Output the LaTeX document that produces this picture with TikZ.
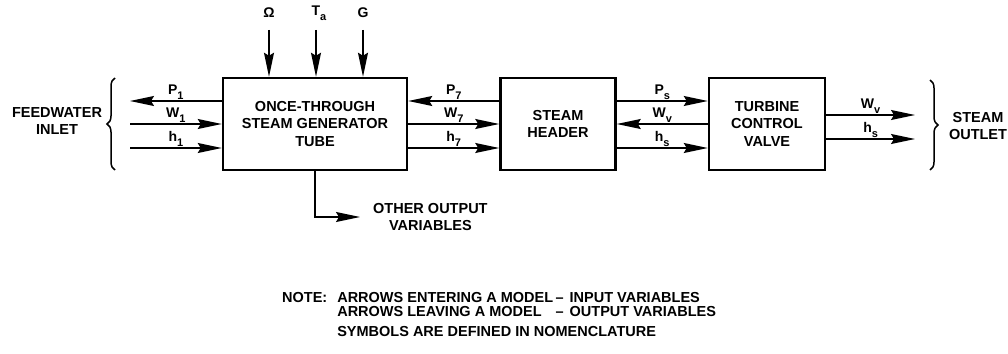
\documentclass[tikz,border=0pt]{standalone}
\usepackage{fontspec}
\setmainfont{Liberation Sans}
\usetikzlibrary{arrows.meta,positioning,calc,decorations.pathreplacing}
\newcommand{\vsub}[2]{#1\raisebox{-5pt}{\fontsize{11}{11}\selectfont #2}}

\begin{document}
\begin{tikzpicture}[x=1pt, y=-1pt,
    every node/.style={font=\fontsize{14.5}{17}\selectfont\bfseries},
    model/.style={draw, line width=2.5pt, minimum height=92pt, align=center, font=\fontsize{14.5}{17.5}\selectfont\bfseries},
    sig/.style={line width=1.3pt, -{Stealth[length=24pt, width=10pt, inset=3pt]}},
    lbl/.style={inner sep=1pt, font=\fontsize{14}{14}\selectfont\bfseries},
    curly/.style={decorate, decoration={brace, amplitude=8pt}, line width=1.5pt},
]
\useasboundingbox (0,0) rectangle (1008,353);

% the three models
\node[model, minimum width=184pt] (tube) at (315,124) {ONCE-THROUGH\\STEAM GENERATOR\\TUBE};
\node[model, minimum width=115pt] (header) at (558,124) {STEAM\\HEADER};
\node[model, minimum width=116pt] (valve) at (767,124) {TURBINE\\CONTROL\\VALVE};

% feedwater side
\coordinate (p1end) at (130,101);
\coordinate (w1start) at (130,124);
\coordinate (h1start) at (130,148);
\draw[sig] (tube.west |- p1end) -- (p1end) node[lbl, midway, above] {\vsub{P}{1}};
\draw[sig] (w1start) -- (tube.west |- w1start) node[lbl, midway, above] {\vsub{W}{1}};
\draw[sig] (h1start) -- (tube.west |- h1start) node[lbl, midway, above] {\vsub{h}{1}};
\draw[curly] (115,170) -- (115,78);
\node[align=center] (inlet) at (57,121) {FEEDWATER\\INLET};

% top inputs
\coordinate (omtop) at (269,30);
\coordinate (tatop) at (316,30);
\coordinate (gtop) at (363,30);
\node[lbl, above=11pt of omtop] (om) {Ω};
\node[lbl, above=8pt of tatop, xshift=3pt] (ta) {\vsub{T}{a}};
\node[lbl, above=11pt of gtop] (g) {G};
\draw[sig] (omtop) -- (omtop |- tube.north);
\draw[sig] (tatop) -- (tatop |- tube.north);
\draw[sig] (gtop) -- (gtop |- tube.north);

% other outputs
\node[anchor=west, inner sep=0, align=center] (other) at (373,217) {OTHER OUTPUT\\VARIABLES};
\draw[sig] (tube.south) |- ([xshift=-13pt]other.west);

% tube <-> header
\draw[sig] ([yshift=23pt]header.west) -- ([yshift=23pt]tube.east) node[lbl, midway, above] {\vsub{P}{7}};
\draw[sig] (tube.east) -- (header.west) node[lbl, midway, above] {\vsub{W}{7}};
\draw[sig] ([yshift=-24pt]tube.east) -- ([yshift=-24pt]header.west) node[lbl, midway, above] {\vsub{h}{7}};

% header <-> valve
\draw[sig] ([yshift=23pt]header.east) -- ([yshift=23pt]valve.west) node[lbl, midway, above] {\vsub{P}{s}};
\draw[sig] (valve.west) -- (header.east) node[lbl, midway, above] {\vsub{W}{v}};
\draw[sig] ([yshift=-24pt]header.east) -- ([yshift=-24pt]valve.west) node[lbl, midway, above] {\vsub{h}{s}};

% steam outlet
\coordinate (wvout) at (915,115);
\coordinate (hsout) at (915,139);
\draw[sig] (valve.east |- wvout) -- (wvout) node[lbl, midway, above] {\vsub{W}{v}};
\draw[sig] (valve.east |- hsout) -- (hsout) node[lbl, midway, above] {\vsub{h}{s}};
\draw[curly] (930,80) -- (930,170);
\node[align=center] (outlet) at (978,126) {STEAM\\OUTLET};

% note
\node[anchor=north west, inner sep=0, font=\fontsize{14.5}{12.5}\selectfont\bfseries] (note) at (282,292) {%
\begin{tabular}{@{}l@{\hspace{10pt}}l@{\,}l@{\hspace{6pt}}l@{}}
NOTE: & ARROWS ENTERING A MODEL & -- & INPUT VARIABLES\\
 & ARROWS LEAVING A MODEL & -- & OUTPUT VARIABLES\\[6pt]
 & \multicolumn{3}{@{}l@{}}{SYMBOLS ARE DEFINED IN NOMENCLATURE}
\end{tabular}};
\end{tikzpicture}
\end{document}
